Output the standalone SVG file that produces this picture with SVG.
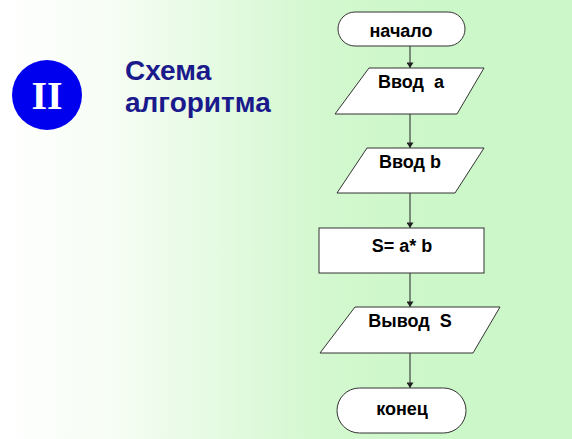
<svg xmlns="http://www.w3.org/2000/svg" width="572" height="439" viewBox="0 0 572 439">
<defs>
<linearGradient id="bg" x1="0" y1="0" x2="1" y2="0">
<stop offset="0" stop-color="#ffffff"/>
<stop offset="0.2" stop-color="#f6fdf4"/>
<stop offset="0.55" stop-color="#d4f8d0"/>
<stop offset="0.75" stop-color="#ccf7c9"/>
<stop offset="1" stop-color="#ccf7c9"/>
</linearGradient>
<marker id="ah" viewBox="0 0 8 10" refX="8" refY="5" markerWidth="6" markerHeight="7" orient="auto" markerUnits="userSpaceOnUse">
<path d="M0,0 L8,5 L0,10 z" fill="#222"/>
</marker>
<style>
.shape{fill:#ffffff;stroke:#333;stroke-width:1}
.lbl{font-family:"Liberation Sans",Arial,sans-serif;font-weight:bold;font-size:18px;fill:#000;text-anchor:middle;white-space:pre}
.title{font-family:"Liberation Sans",Arial,sans-serif;font-weight:bold;font-size:28px;fill:#1a1a8c}
.conn{stroke:#222;stroke-width:1;fill:none;marker-end:url(#ah)}
</style>
</defs>
<rect x="0" y="0" width="572" height="439" fill="url(#bg)"/>
<g id="badge">
<circle cx="47" cy="95" r="35" fill="#0000ee"/>
<text x="47" y="109" font-family="Liberation Serif,'Times New Roman',serif" font-weight="bold" font-size="40" fill="#ffffff" text-anchor="middle">II</text>
</g>
<g id="title">
<text class="title" x="125" y="80">Схема</text>
<text class="title" x="125" y="112">алгоритма</text>
</g>
<g id="connectors">
<line class="conn" x1="410" y1="46" x2="410" y2="68"/>
<line class="conn" x1="410" y1="114" x2="410" y2="148"/>
<line class="conn" x1="410" y1="193" x2="410" y2="228"/>
<line class="conn" x1="410" y1="273" x2="410" y2="307"/>
<line class="conn" x1="410" y1="353" x2="410" y2="388"/>
</g>
<g id="start">
<rect class="shape" x="338" y="12" width="127" height="34" rx="17" ry="17"/>
<text class="lbl" x="401" y="37">начало</text>
</g>
<g id="input-a">
<polygon class="shape" points="369,68 484,68 457,114 335,114"/>
<text class="lbl" x="411" y="88" xml:space="preserve">Ввод  a</text>
</g>
<g id="input-b">
<polygon class="shape" points="367,148 484,148 455,193 337,193"/>
<text class="lbl" x="410" y="168">Ввод b</text>
</g>
<g id="process">
<rect class="shape" x="319" y="228" width="165" height="45"/>
<text class="lbl" x="402" y="252">S= a* b</text>
</g>
<g id="output-s">
<polygon class="shape" points="355,307 500,307 473,353 320,353"/>
<text class="lbl" x="410" y="327" xml:space="preserve">Вывод  S</text>
</g>
<g id="end">
<rect class="shape" x="337" y="388" width="129" height="45" rx="22.5" ry="22.5"/>
<text class="lbl" x="402" y="415">конец</text>
</g>
</svg>
